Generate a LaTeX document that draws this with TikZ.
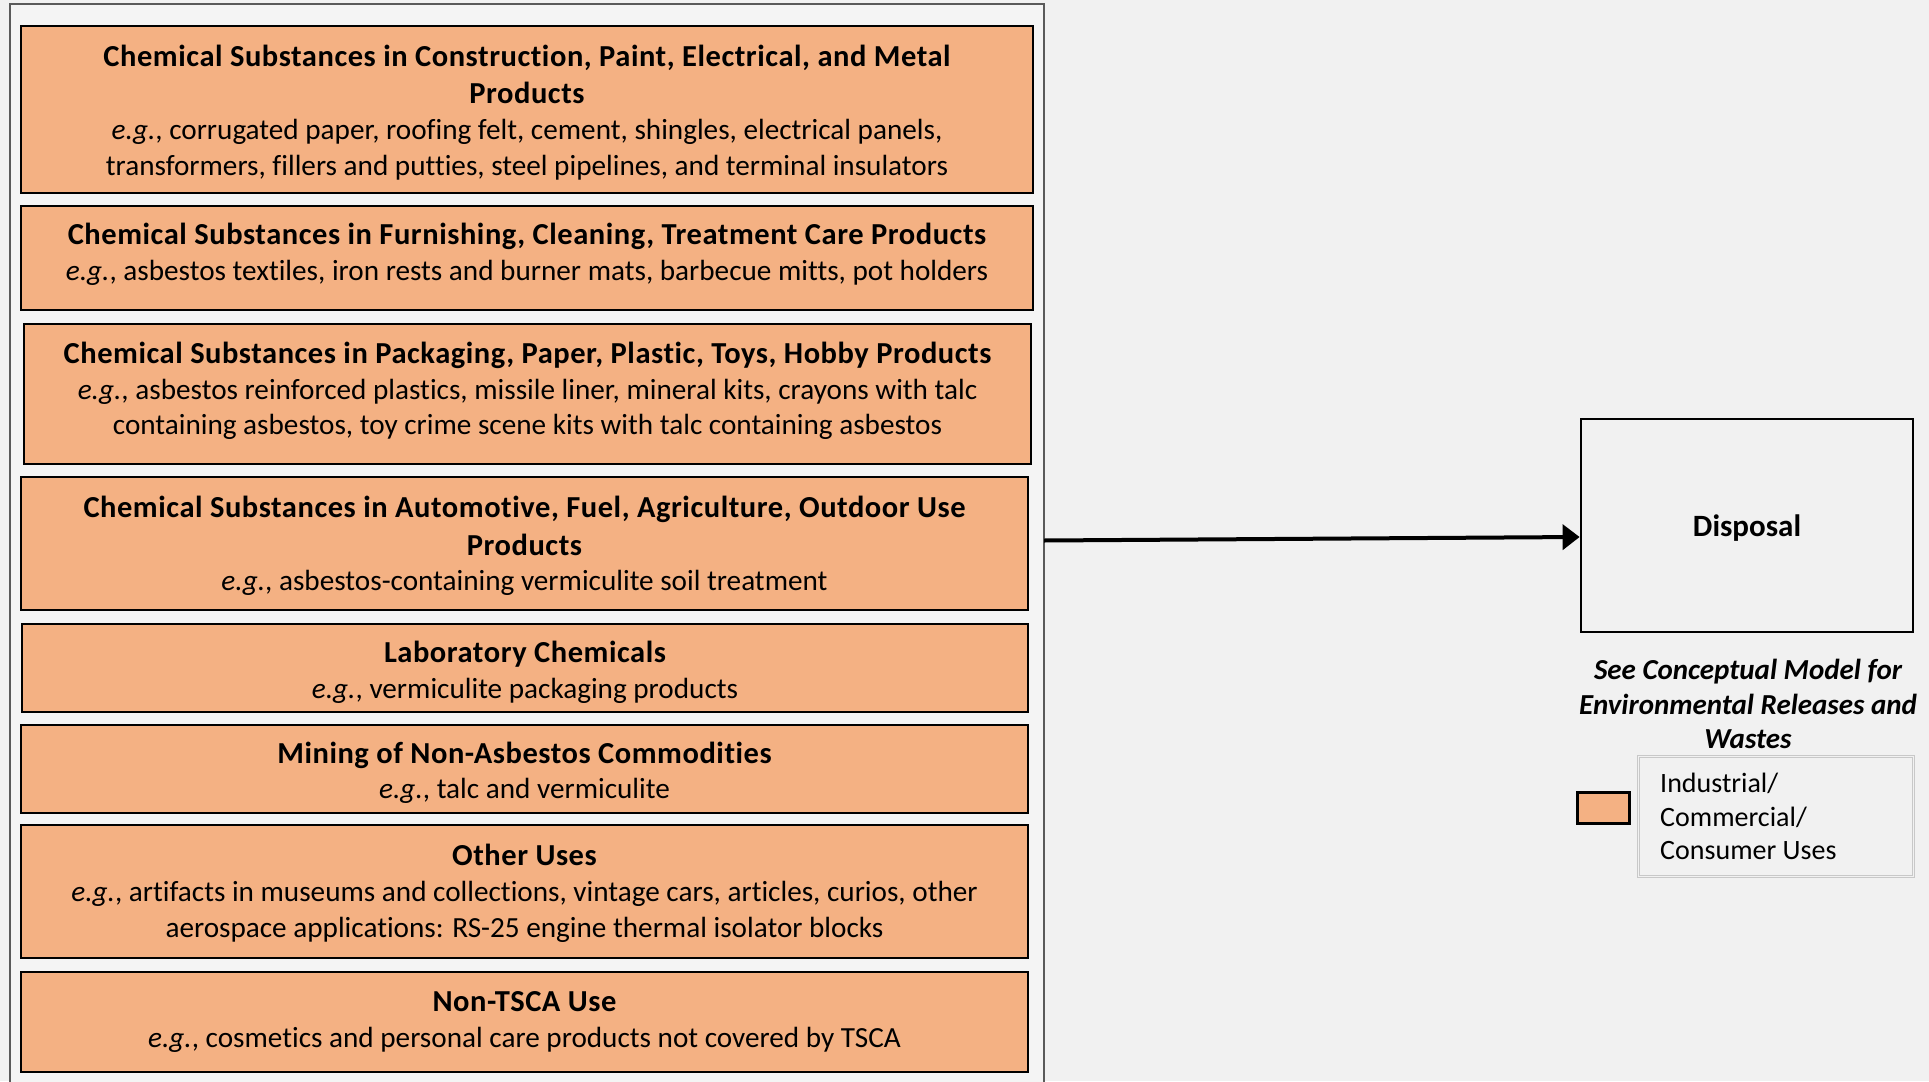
\documentclass[tikz,border=0pt]{standalone}
\usepackage{fontspec}
\setmainfont{Carlito}[Ligatures=NoCommon]
\newfontfamily\ttlfont{Carlito}[LetterSpace=1.8,Ligatures=NoCommon]
\usetikzlibrary{arrows.meta}
\definecolor{usefill}{HTML}{F4B183}
\definecolor{pagebg}{HTML}{F1F1F1}
\definecolor{panelbg}{HTML}{F4F4F4}
\definecolor{panelline}{HTML}{5A5A5A}
\definecolor{legendline}{HTML}{C8C8C8}
% bold heading line inside a use box
\newcommand{\usehead}[1]{{\ttlfont\bfseries\fontsize{30.5}{36}\selectfont #1}}
\begin{document}
\begin{tikzpicture}[x=1pt,y=-1pt,
  usebox/.style={draw=black, line width=2.6pt, fill=usefill, inner sep=0pt},
  usetext/.style={align=center, inner sep=0pt, font=\fontsize{29.2}{35.8}\selectfont},
  disposalbox/.style={draw=black, line width=2.8pt, fill=pagebg, text depth=0pt,
    font=\bfseries\fontsize{31}{36}\selectfont},
  flowarrow/.style={line width=4pt, -{Triangle[length=17pt,width=25pt]}},
  capnote/.style={align=center, font=\bfseries\itshape\fontsize{29}{34.5}\selectfont},
  legendframe/.style={draw=legendline, line width=0.6pt, double=pagebg,
    double distance=1.4pt, fill=pagebg},
  legendtext/.style={align=left, anchor=north west, inner sep=0pt,
    font=\fontsize{28}{33.5}\selectfont}]
  % page and background
  \useasboundingbox (0,0) rectangle (1929,1081);
  \fill[pagebg] (0,0) rectangle (1929,1081);
  % panel holding the use categories
  \node[draw=panelline, line width=1.3pt, fill=panelbg, minimum width=1034,
    minimum height=1100, inner sep=0pt] (panel) at (527,554) {};

  % use category boxes
  \node[usebox, minimum width=1012, minimum height=167] (b1) at (527,109.5) {};
  \node[usebox, minimum width=1012, minimum height=104] (b2) at (527,258) {};
  \node[usebox, minimum width=1007, minimum height=140] (b3) at (527.5,394) {};
  \node[usebox, minimum width=1007, minimum height=133] (b4) at (524.5,543.5) {};
  \node[usebox, minimum width=1006, minimum height=88] (b5) at (525,668) {};
  \node[usebox, minimum width=1007, minimum height=88] (b6) at (524.5,769) {};
  \node[usebox, minimum width=1007, minimum height=133] (b7) at (524.5,891.5) {};
  \node[usebox, minimum width=1007, minimum height=100] (b8) at (524.5,1022) {};

  % their texts
  \node[usetext] (t1) at ([yshift=-3pt]b1.center)
    {\usehead{Chemical Substances in Construction, Paint, Electrical, and Metal}\\[2pt]
     \usehead{Products}\\
     \textit{e.g.}, corrugated paper, roofing felt, cement, shingles, electrical panels,\\
     transformers, fillers and putties, steel pipelines, and terminal insulators};
  \node[usetext] (t2) at ([yshift=3.7pt]b2.center)
    {\usehead{Chemical Substances in Furnishing, Cleaning, Treatment Care Products}\\
     \textit{e.g.}, asbestos textiles, iron rests and burner mats, barbecue mitts, pot holders};
  \node[usetext] (t3) at ([yshift=3pt]b3.center)
    {\usehead{Chemical Substances in Packaging, Paper, Plastic, Toys, Hobby Products}\\
     \textit{e.g.}, asbestos reinforced plastics, missile liner, mineral kits, crayons with talc\\
     containing asbestos, toy crime scene kits with talc containing asbestos};
  \node[usetext] (t4) at ([yshift=-2.5pt]b4.center)
    {\usehead{Chemical Substances in Automotive, Fuel, Agriculture, Outdoor Use}\\[2pt]
     \usehead{Products}\\
     \textit{e.g.}, asbestos-containing vermiculite soil treatment};
  \node[usetext] (t5) at ([yshift=-4.3pt]b5.center)
    {\usehead{Laboratory Chemicals}\\
     \textit{e.g.}, vermiculite packaging products};
  \node[usetext] (t6) at ([yshift=-3.7pt]b6.center)
    {\usehead{Mining of Non-Asbestos Commodities}\\
     \textit{e.g.}, talc and vermiculite};
  \node[usetext] (t7) at ([yshift=-2pt]b7.center)
    {\usehead{Other Uses}\\
     \textit{e.g.}, artifacts in museums and collections, vintage cars, articles, curios, other\\
     aerospace applications: RS-25 engine thermal isolator blocks};
  \node[usetext] (t8) at (b8.center)
    {\usehead{Non-TSCA Use}\\
     \textit{e.g.}, cosmetics and personal care products not covered by TSCA};

  % disposal
  \node[disposalbox, minimum width=332, minimum height=213] (disp) at (1747,525.5) {Disposal};
  \coordinate (a0) at (1044,540.5);
  \draw[flowarrow] (a0) -- ([yshift=-11.5pt]disp.west);

  \node[capnote] (note) at (1748,704)
    {See Conceptual Model for\\ Environmental Releases and\\ Wastes};

  % legend
  \node[draw=black, line width=2.4pt, fill=usefill, minimum width=52, minimum height=31,
    inner sep=0pt] (swatch) at (1603.5,808) {};
  \node[legendframe, minimum width=275, minimum height=120, inner sep=0pt] (legend)
    at (1776,816.5) {};
  \node[legendtext] (legtxt) at (1660,773)
    {Industrial/\\ Commercial/\\ Consumer Uses};
\end{tikzpicture}
\end{document}
